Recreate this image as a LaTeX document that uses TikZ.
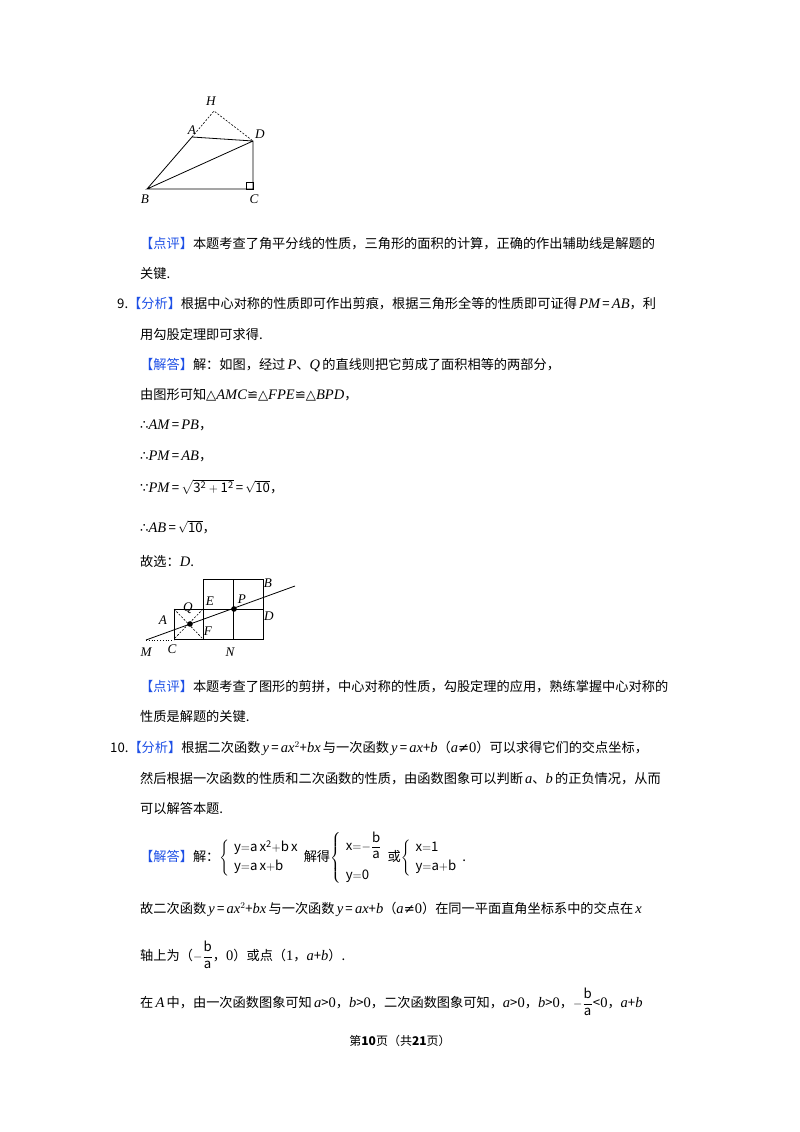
\documentclass[tikz,border=0pt]{standalone}
\usepackage{amsmath}
\usepackage{fontspec}
\setmainfont{Noto Sans CJK SC}
\newfontfamily\lsi{Liberation Serif}[ItalicFont=* Italic,Scale=1.1]
\newfontfamily\djv{DejaVu Sans}
\newcommand\vi[1]{{\lsi\itshape #1}}
\newcommand\vr[1]{{\lsi #1}}
\newcommand\sy[1]{{\djv #1}}
\definecolor{kb}{RGB}{30,80,230}
\newcommand\tagb[1]{{\color{kb}【#1】}}
\begin{document}
\begin{tikzpicture}[x=1pt,y=-1pt,
  tl/.style={anchor=base west,inner sep=0pt,font=\fontsize{13.2}{15}\selectfont},
  lb/.style={inner sep=0pt,font=\fontsize{12}{13}\lsi\itshape},
  ln/.style={line width=0.8pt},
  dsh/.style={line width=0.6pt,dash pattern=on 2pt off 1.5pt}]
\useasboundingbox[fill=white] (0,0) rectangle (800,1132);
% figure 1
\coordinate (H) at (214,111); \coordinate (A) at (192,137);
\coordinate (D) at (253,141); \coordinate (B) at (147,189); \coordinate (C) at (253,189);
\draw[ln] (B)--(A)--(D)--(C)--(B)--(D);
\draw[ln] (C)++(-7,0) rectangle ++(7,-7);
\draw[dsh] (A)--(H)--(D);
\node[lb] at (211,101) {H}; \node[lb] at (192,130) {A}; \node[lb] at (260,134) {D};
\node[lb] at (145,199) {B}; \node[lb] at (254,199) {C};
% text
\node[tl] at (140,248) {\tagb{点评}本题考查了角平分线的性质，三角形的面积的计算，正确的作出辅助线是解题的};
\node[tl] at (140,278) {关键.};
\node[tl] at (117,308) {9.\tagb{分析}根据中心对称的性质即可作出剪痕，根据三角形全等的性质即可证得\,\vi{PM}\,=\,\vi{AB}，利};
\node[tl] at (140,339) {用勾股定理即可求得.};
\node[tl] at (140,369) {\tagb{解答}解：如图，经过\,\vi{P}、\vi{Q}\,的直线则把它剪成了面积相等的两部分，};
\node[tl] at (140,399) {由图形可知\sy{△}\vi{AMC}\sy{≌△}\vi{FPE}\sy{≌△}\vi{BPD}，};
\node[tl] at (140,429) {\sy{∴}\vi{AM}\,=\,\vi{PB}，};
\node[tl] at (140,460) {\sy{∴}\vi{PM}\,=\,\vi{AB}，};
\node[tl] at (140,492) {\sy{∵}\vi{PM}\,=\,$\sqrt{\mathrm{3^2+1^2}}$\,=\,$\sqrt{\mathrm{10}}$，};
\node[tl] at (140,532) {\sy{∴}\vi{AB}\,=\,$\sqrt{\mathrm{10}}$，};
\node[tl] at (140,566) {故选：\vi{D}.};
% figure 2
\draw[ln] (203,579) rectangle (263,639);
\draw[ln] (233,579)--(233,639) (203,609)--(263,609);
\draw[ln] (174,609) rectangle (203,639);
\draw[dsh] (174,609)--(203,639) (203,609)--(174,639);
\draw[dotted,line width=0.8pt] (146,640)--(174,640);
\coordinate (M) at (146,640); \coordinate (E2) at (295,586);
\draw[ln] (M)--(E2);
\fill (234,609) circle (2.8); \fill (190,624) circle (2.8);
\node[lb] at (268,583) {B}; \node[lb] at (210,601) {E}; \node[lb] at (242,599) {P};
\node[lb] at (188,608) {Q}; \node[lb] at (163,620) {A}; \node[lb] at (208,631) {F};
\node[lb] at (269,616) {D}; \node[lb] at (146,652) {M}; \node[lb] at (172,649) {C};
\node[lb] at (230,652) {N};
\node[tl] at (140,691) {\tagb{点评}本题考查了图形的剪拼，中心对称的性质，勾股定理的应用，熟练掌握中心对称的};
\node[tl] at (140,721) {性质是解题的关键.};
\node[tl] at (110,752) {10.\tagb{分析}根据二次函数\,\vi{y}\,=\,\vi{ax}$^2$+\vi{bx}\,与一次函数\,\vi{y}\,=\,\vi{ax}+\vi{b}（\vi{a}\sy{≠}\vr{0}）可以求得它们的交点坐标，};
\node[tl] at (140,783) {然后根据一次函数的性质和二次函数的性质，由函数图象可以判断\,\vi{a}、\vi{b}\,的正负情况，从而};
\node[tl] at (140,813) {可以解答本题.};
\node[tl] at (140,861) {\tagb{解答}解：$\left\{\begin{array}{l}\mathrm{y{=}a\,x^2{+}b\,x}\\[4pt] \mathrm{y{=}a\,x{+}b}\end{array}\right.$解得$\left\{\begin{array}{l}\mathrm{x{=}{-}\dfrac{b}{a}}\\[14pt] \mathrm{y{=}0}\end{array}\right.$或$\left\{\begin{array}{l}\mathrm{x{=}1}\\[4pt] \mathrm{y{=}a{+}b}\end{array}\right.$.};
\node[tl] at (140,913) {故二次函数\,\vi{y}\,=\,\vi{ax}$^2$+\vi{bx}\,与一次函数\,\vi{y}\,=\,\vi{ax}+\vi{b}（\vi{a}\sy{≠}\vr{0}）在同一平面直角坐标系中的交点在\,\vi{x}};
\node[tl] at (140,960) {轴上为（$-\dfrac{\mathrm b}{\mathrm a}$，\vr{0}）或点（\vr{1}，\vi{a}+\vi{b}）.};
\node[tl] at (140,1007) {在\,\vi{A}\,中，由一次函数图象可知\,\vi{a}>\vr{0}，\vi{b}>\vr{0}，二次函数图象可知，\vi{a}>\vr{0}，\vi{b}>\vr{0}，$-\dfrac{\mathrm b}{\mathrm a}$<\vr{0}，\vi{a}+\vi{b}};
\node[anchor=base,inner sep=0pt,font=\fontsize{12}{14}\selectfont] at (400,1045) {第\textbf{10}页（共\textbf{21}页）};
\end{tikzpicture}
\end{document}
